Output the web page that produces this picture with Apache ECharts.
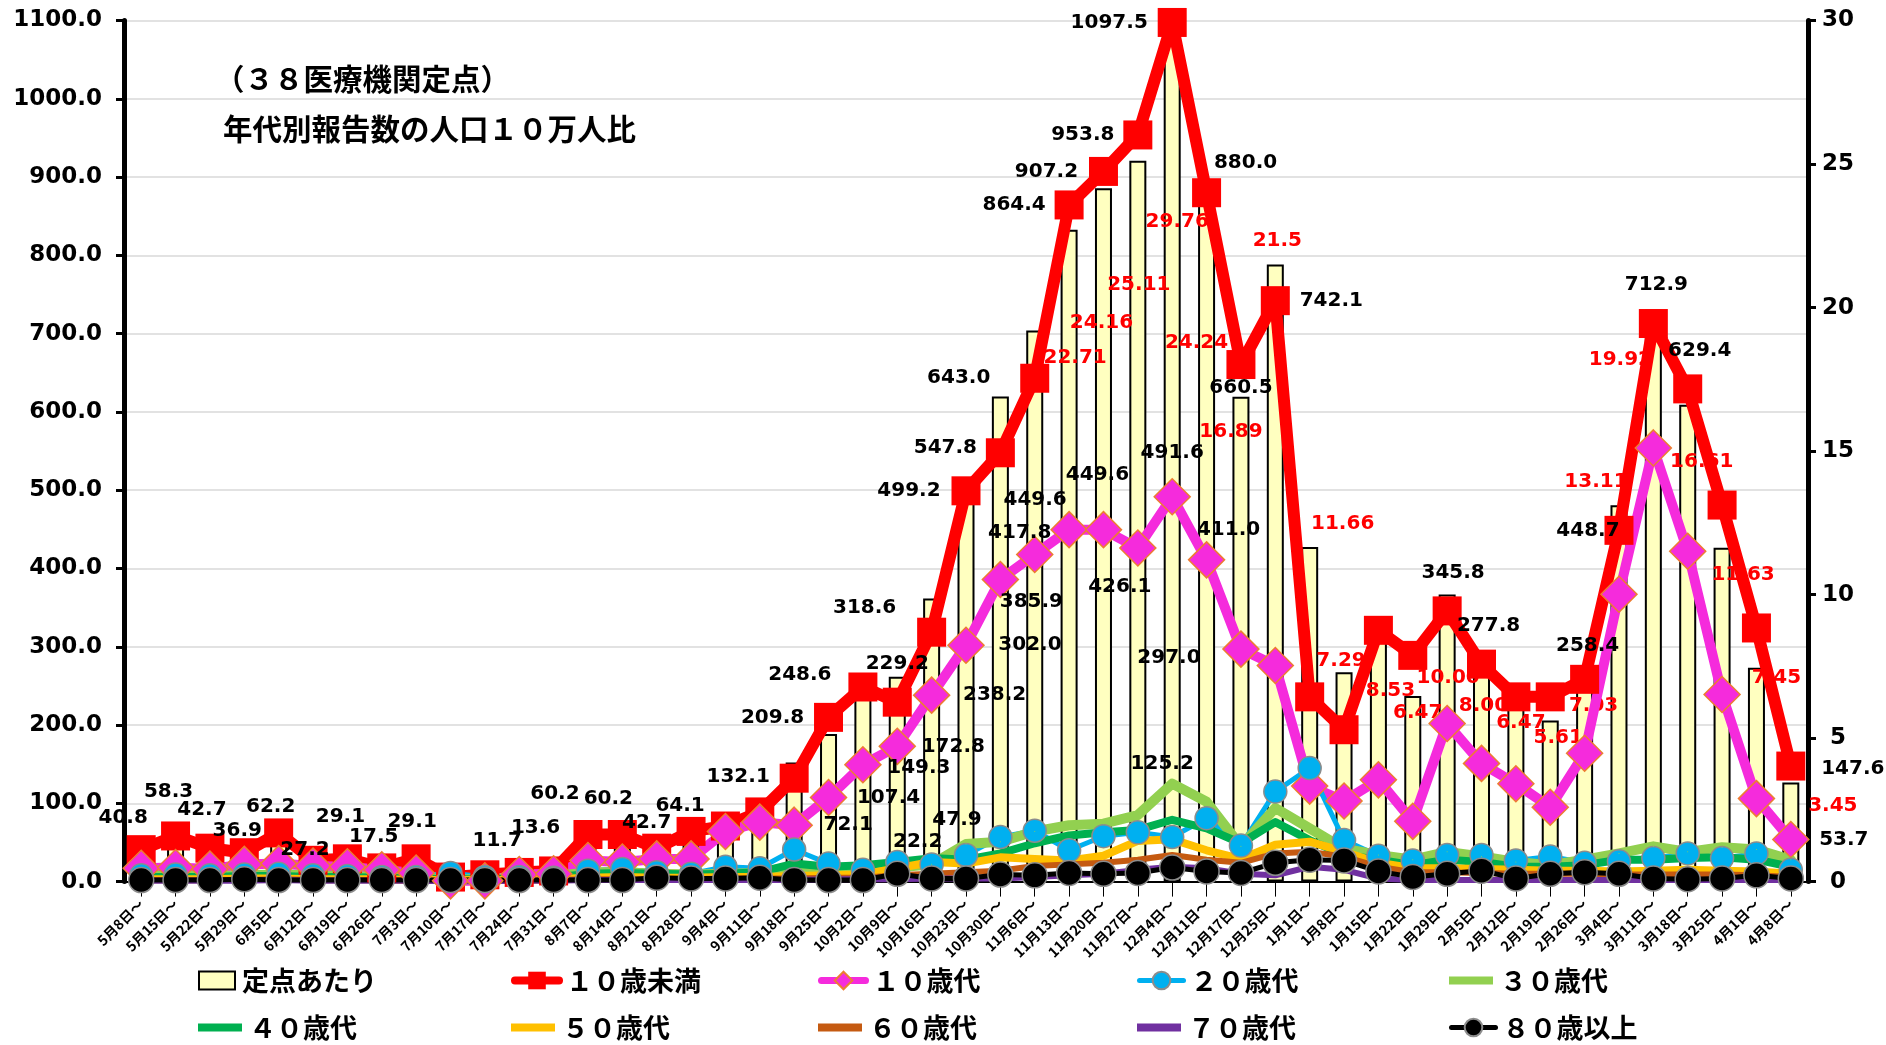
<!DOCTYPE html>
<html><head><meta charset="utf-8">
<script src="https://cdn.jsdelivr.net/npm/echarts@6/dist/echarts.min.js"></script>
<style>html,body{margin:0;padding:0;background:#fff}#c{width:1886px;height:1045px}</style>
</head><body><div id="c"></div><script>
const categories = ["5月8日〜","5月15日〜","5月22日〜","5月29日〜","6月5日〜","6月12日〜","6月19日〜","6月26日〜","7月3日〜","7月10日〜","7月17日〜","7月24日〜","7月31日〜","8月7日〜","8月14日〜","8月21日〜","8月28日〜","9月4日〜","9月11日〜","9月18日〜","9月25日〜","10月2日〜","10月9日〜","10月16日〜","10月23日〜","10月30日〜","11月6日〜","11月13日〜","11月20日〜","11月27日〜","12月4日〜","12月11日〜","12月17日〜","12月25日〜","1月1日〜","1月8日〜","1月15日〜","1月22日〜","1月29日〜","2月5日〜","2月12日〜","2月19日〜","2月26日〜","3月4日〜","3月11日〜","3月18日〜","3月25日〜","4月1日〜","4月8日〜"];

// 定点あたり (right axis)
const perSentinel = [1.2,1.6,1.2,1.0,1.7,0.74,0.79,0.47,0.79,0.16, 0.21,0.32,0.37,1.64,1.64,1.16,1.75,1.96,2.9,4.15, 5.14,6.6,7.14,9.86,13.9,16.9,19.2,22.71,24.16,25.11, 29.76,24.24,16.89,21.5,11.66,7.29,8.53,6.47,10.00,8.00, 6.47,5.61,7.03,13.11,19.92,16.61,11.63,7.45,3.45];
// 人口10万人比 (left axis)
const under10 = [40.8,58.3,42.7,36.9,62.2,27.2,29.1,17.5,29.1,5.8, 8.7,11.7,13.6,60.2,60.2,42.7,64.1,71,89,132.1, 209.8,248.6,229.2,318.6,499.2,547.8,643.0,864.4,907.2,953.8, 1097.5,880.0,660.5,742.1,236,194,321,289,345.8,277.8, 236,236,258.4,448.7,712.9,629.4,481,324,147.6];
const age10s = [17,18,16,22,23,20,19,15,11,1, 1,9,10,27,25,29,29,64,76,72.1, 107.4,149.3,172.8,238.2,302.0,385.9,417.8,449.6,449.6,426.1, 491.6,411.0,297.0,276,122,103,130,77,202,151, 125,95,164,367,554,422,239,106,53.7];
const age20s = [8,9,8,9,10,8,7,6,6,11, 6,6,5,14,16,12,10,19,17,41, 23,15,25,22,34,57,65,40,58,63, 57,81,46,115,145,53,33,27,34,34, 27,32,24,26,30,36,30,36,15];
const age30s = [8,7,7,8,9,8,7,6,5,3, 3,5,7,12,12,10,9,10,11,15, 14,16,18,22.2,47.9,51,64,72,74,85, 125.2,102,45,94,68,42,34,28,38,32, 25,21,28,36,45,38,44,41,28];
const age40s = [6,6,6,7,7,6,6,5,4,3, 3,4,5,10,11,10,9,10,12,23, 19,21,25,30,28,36,49,59,63,66, 79,68,49,76,53,34,28,21,28,25, 19,19,21,28,28,30,31,28,19];
const age50s = [3,3,3,4,4,3,3,3,2,2, 2,2,3,5,6,5,5,6,6,7, 8,9,17,25,23,31,29,27,33,52, 54,40,29,47,51,38,24,17,17,16, 15,14,14,13,14,15,14,13,10];
const age60s = [2,2,2,2,3,2,2,2,1,1, 1,1,2,3,3,3,3,4,4,4, 5,5,8,10,12,14,20,22,24,28, 34,28,24,36,38,32,19,12,12,11, 10,10,10,9,9,9,9,8,6];
const age70s = [1,1,1,1,2,1,1,1,1,0.5, 0.5,1,1,2,2,2,2,2,2,2, 3,3,3,4,4,4,6,8,10,15, 19,17,10,8,19,15,4,2,2,2, 2,2,2,2,2,2,2,2,2];
const age80s = [2,2,2,3,2,2,2,2,2,2, 2,2,2,2,2,5,4,4,5,2, 2,2,10,4,4,9,8,11,10,11, 18,13,11,24,28,27,13,6,10,14, 4,10,12,10,4,3,4,8,4];

const leftTicks = {min:0, max:1100, step:100};
const rightTicks = {min:0, max:30, step:5};

// label placement (offsets in px from the point / bar top) -- styling only
const under10Lbl = {0:[-18,-32],1:[-7,-44],2:[-8,-38],3:[-7,-22],4:[-8,-26],5:[-8,-11],6:[-7,-42],7:[-8,-31],8:[-4,-37],11:[-22,-32],12:[-18,-43],13:[-33,-41],14:[-14,-36],15:[-10,-25],16:[-11,-26],19:[-56,-1],20:[-56,0],21:[-63,-12],22:[0,-38],23:[-67,-24],24:[-57,0],25:[-55,-5],26:[-76,0],27:[-55,0],28:[-57,0],29:[-55,0],30:[-63,0],31:[39,-30],32:[0,23],33:[56,0],38:[6,-38],39:[7,-38],42:[3,-34],43:[-31,0],44:[3,-39],45:[12,-38],48:[62,3]};
const age10Lbl = {19:[54,0],20:[60,0],21:[56,3],22:[56,0],23:[63,0],24:[64,0],25:[31,22],26:[-15,-22],27:[-34,-30],28:[-6,-55],29:[-18,39],30:[0,-44],31:[22,-30],32:[-72,9],48:[53,0]};
const age30Lbl = {23:[-14,-22],24:[-9,-24],30:[-10,-20]};
const barLbl = {27:[6,128],28:[-2,135],29:[1,124],30:[5,194],31:[-10,157],32:[-10,35],33:[2,-24,1],34:[33,-23],35:[-3,-12],36:[12,54],37:[5,17],38:[1,83],39:[2,54],40:[5,27],41:[8,17],42:[9,26],43:[-23,-24],44:[-33,50],45:[14,57],46:[21,27],47:[20,10],48:[42,23]};

const NUM = '"DejaVu Sans", sans-serif';
const JP = '"Noto Sans CJK JP", sans-serif';
const lblBase = {fontFamily: NUM, fontWeight:'bold', fontSize:20, color:'#000'};

function lineData(vals, lbl){
  return vals.map((v,i)=>{
    const o = lbl && lbl[i];
    if(!o) return v;
    return {value:v, label:{show:true, position:'inside', offset:[o[0],o[1]], align:'center', verticalAlign:'middle', ...lblBase, formatter:(p)=>Number(p.value).toFixed(1)}};
  });
}
function mkLine(name, vals, color, width, symbol, size, border, lbl){
  return {
    name, type:'line', yAxisIndex:0, data: lineData(vals, lbl),
    symbol, symbolSize:size, showSymbol:true,
    lineStyle:{color, width, cap:'round', join:'round'},
    itemStyle:{color, borderColor: border ? border[0] : color, borderWidth: border ? border[1] : 0},
    label:{show:false}, emphasis:{disabled:true}, silent:true
  };
}

const barData = perSentinel.map((v,i)=>{
  const o = barLbl[i];
  if(!o) return v;
  const d = o[2] !== undefined ? o[2] : 2;
  return {value:v, label:{show:true, position:['50%',0], offset:[o[0],o[1]], align:'center', verticalAlign:'middle', ...lblBase, color:'#FF0000', formatter:(p)=>Number(p.value).toFixed(d)}};
});

const series = [
  {name:'定点あたり', type:'bar', yAxisIndex:1, data:barData, barWidth:17,
   itemStyle:{color:'#FFFFC0', borderColor:'#000', borderWidth:2}, label:{show:false}, emphasis:{disabled:true}, silent:true},
  mkLine('１０歳未満', under10, '#FF0000', 12, 'rect', 29, null, under10Lbl),
  mkLine('１０歳代', age10s, '#F52BDC', 10, 'diamond', 36, ['#ED7D31',1.5], age10Lbl),
  mkLine('２０歳代', age20s, '#00B0F0', 5, 'circle', 23, ['#8C8C8C',1.5], null),
  mkLine('３０歳代', age30s, '#92D050', 10, 'circle', 1, null, age30Lbl),
  mkLine('４０歳代', age40s, '#00B050', 8, 'none', 1, null, null),
  mkLine('５０歳代', age50s, '#FFC000', 8, 'none', 1, null, null),
  mkLine('６０歳代', age60s, '#C55A11', 6, 'none', 1, null, null),
  mkLine('７０歳代', age70s, '#7030A0', 6, 'none', 1, null, null),
  mkLine('８０歳以上', age80s, '#000000', 5, 'circle', 25, ['#8C8C8C',1.5], null)
];

const legendCols = [198, 511, 818, 1137, 1449];
const legendRows = [983, 1030];
const legendNames = ['定点あたり','１０歳未満','１０歳代','２０歳代','３０歳代','４０歳代','５０歳代','６０歳代','７０歳代','８０歳以上'];
const legendLineW = {1:8, 2:7, 3:5, 9:5};
const legends = legendNames.map((n,k)=>{
  const isBar = k===0, isRect = k>=4 && k<=8;
  const w = isBar ? 36 : 44;
  const h = isBar ? 18 : (isRect ? 8 : 22);
  const item = {name:n};
  if(isRect || isBar) item.icon = 'rect';
  const lg = {data:[item], left:legendCols[k%5], top:legendRows[Math.floor(k/5)] - 16, padding:0,
    itemWidth:w, itemHeight:h, selectedMode:false, itemGap:0,
    textStyle:{fontFamily:JP, fontWeight:'bold', fontSize:27, color:'#000', padding:[0,0,0,2]}};
  if(legendLineW[k]) lg.lineStyle = {width: legendLineW[k]};
  return lg;
});

const chart = echarts.init(document.getElementById('c'), null, {renderer:'canvas'});
chart.setOption({
  animation:false,
  backgroundColor:'#fff',
  grid:{left:124, right:78, top:20.5, bottom:163.4, containLabel:false},
  legend: legends,
  graphic:[
    {type:'text', left:215, top:64, style:{text:'（３８医療機関定点）', font:'bold 29.5px "Noto Sans CJK JP"', fill:'#000'}},
    {type:'text', left:223, top:114, style:{text:'年代別報告数の人口１０万人比', font:'bold 29.5px "Noto Sans CJK JP"', fill:'#000'}}
  ],
  xAxis:{type:'category', data:categories, boundaryGap:true,
    axisLine:{show:true, lineStyle:{color:'#000', width:2}},
    axisTick:{show:true, alignWithLabel:true, length:15, lineStyle:{color:'#000', width:1}},
    axisLabel:{interval:0, rotate:45, margin:20, fontSize:14, fontWeight:'bold', color:'#000', fontFamily:JP},
    splitLine:{show:false}},
  yAxis:[
    {type:'value', position:'left', min:leftTicks.min, max:leftTicks.max, interval:leftTicks.step,
     axisLine:{show:true, lineStyle:{color:'#000', width:5}},
     axisTick:{show:true, length:8, lineStyle:{color:'#000', width:3}},
     axisLabel:{formatter:(v)=>v.toFixed(1), margin:22, fontSize:23, fontWeight:'bold', color:'#000', fontFamily:NUM},
     splitLine:{show:true, lineStyle:{color:'#D9D9D9', width:1.5}}},
    {type:'value', position:'right', min:rightTicks.min, max:rightTicks.max, interval:rightTicks.step,
     axisLine:{show:true, lineStyle:{color:'#000', width:5}},
     axisTick:{show:true, length:8, lineStyle:{color:'#000', width:3}},
     axisLabel:{margin:30, align:'center', fontSize:23, fontWeight:'bold', color:'#000', fontFamily:NUM},
     splitLine:{show:false}}
  ],
  series
});
</script></body></html>
